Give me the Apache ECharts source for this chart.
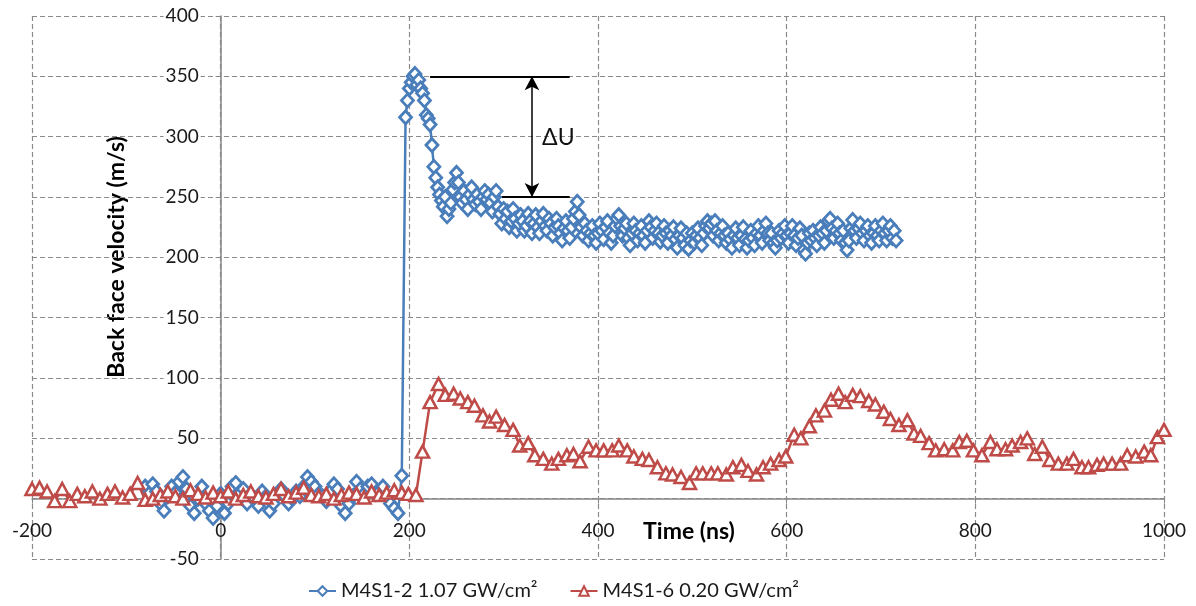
<!DOCTYPE html>
<html>
<head>
<meta charset="utf-8">
<script src="https://cdn.jsdelivr.net/npm/echarts@6/dist/echarts.min.js"></script>
<style>html,body{margin:0;padding:0;background:#fff;}#c{width:1196px;height:606px;}</style>
</head>
<body>
<div id="c"></div>
<script>
// ---- data ----
const xTicks = { min: -200, max: 1000, interval: 200 };
const yTicks = { min: -50, max: 400, interval: 50 };
const seriesNames = ['M4S1-2 1.07 GW/cm²', 'M4S1-6 0.20 GW/cm²'];
const xTitle = 'Time (ns)';
const yTitle = 'Back face velocity (m/s)';
const deltaLabel = 'ΔU';

// M4S1-2 before the shock: [time ns, velocity m/s]
const bluePre = [
[-80,10],[-76,4],[-72,12],[-68,6],[-64,-4],[-60,-10],[-56,2],[-52,10],[-48,5],[-44,14],
[-40,18],[-36,8],[-32,-6],[-28,-12],[-24,0],[-20,10],[-16,-4],[-12,-10],[-8,-16],[-4,-6],
[0,4],[4,-12],[8,-4],[12,10],[16,13],[20,4],[24,8],[28,-4],[32,2],[36,0],
[40,-6],[44,6],[48,2],[52,-10],[56,-4],[60,4],[64,8],[68,2],[72,-4],[76,0],
[80,6],[84,2],[88,10],[92,18],[96,14],[100,10],[104,4],[108,2],[112,-2],[116,6],
[120,12],[124,8],[128,-6],[132,-12],[136,-4],[140,2],[144,14],[148,8],[152,4],[156,10],
[160,12],[164,4],[168,6],[172,10],[176,2],[180,-4],[184,-8],[188,-12],[192,19]
];
// M4S1-2 after the shock, sampled every 2 ns from 196 ns (m/s)
const bluePostStart = 196, bluePostStep = 2;
const bluePost = [
316,330,340,345,350,352,343,347,340,336,
330,318,315,310,293,275,266,258,252,247,
242,250,234,240,245,256,262,270,262,250,
245,255,248,240,252,258,248,244,252,246,
240,250,255,248,252,245,238,250,255,242,
236,228,240,232,238,225,230,240,232,222,
228,235,230,222,226,236,230,220,228,235,
225,220,230,236,226,222,232,228,218,225,
232,226,220,214,224,230,222,216,225,232,
238,246,235,225,218,228,222,214,220,226,
218,212,220,228,222,215,225,230,220,212,
218,226,232,235,226,218,224,228,216,210,
220,228,222,214,220,226,218,212,222,230,
225,216,222,228,220,213,218,226,220,212,
222,218,225,215,208,218,224,216,210,220,
207,214,220,212,218,224,216,210,220,226,
230,224,228,218,230,222,214,220,226,218,
212,220,215,208,218,224,216,210,218,225,
215,208,214,222,216,210,220,226,218,212,
222,228,220,214,220,212,208,214,222,216,
220,226,218,212,220,226,218,210,216,224,
218,206,203,212,220,214,222,216,210,218,
225,220,212,222,230,232,224,216,222,228,
220,214,222,212,206,214,224,231,222,216,
224,228,220,214,222,226,218,212,220,226,
218,214,222,228,220,214,222,226,216,222,
214
];

// M4S1-6: [time ns, velocity m/s]
const redData = [
[-200,8],[-192,9],[-184,6],[-176,-2],[-168,8],[-160,-2],[-152,4],[-144,2],[-136,6],[-128,0],
[-120,4],[-112,6],[-104,1],[-96,4],[-88,13],[-80,-1],[-72,0],[-64,3],[-56,6],[-48,2],
[-40,0],[-32,7],[-24,4],[-16,1],[-8,5],[0,2],[8,6],[16,0],[24,3],[32,6],
[40,2],[48,1],[56,4],[64,8],[72,2],[80,5],[88,9],[96,3],[104,2],[112,4],
[120,0],[128,3],[136,5],[144,4],[152,1],[160,6],[168,3],[176,5],[184,7],[192,5],
[199,4],[207,3],[214,39],[222,80],[231,95],[238,86],[247,87],[254,83],[262,80],[269,77],
[278,69],[285,64],[292,68],[301,61],[310,57],[317,44],[326,46],[333,36],[342,33],[351,29],
[358,33],[367,36],[374,37],[381,31],[390,43],[398,40],[406,40],[415,40],[422,44],[431,40],
[438,35],[447,33],[454,32],[463,26],[472,21],[479,20],[488,18],[497,13],[504,21],[511,21],
[520,21],[527,21],[536,20],[543,26],[552,28],[559,23],[568,20],[575,26],[583,29],[592,32],
[599,35],[608,53],[615,50],[624,60],[631,69],[640,73],[647,82],[655,87],[662,80],[670,86],
[678,85],[687,81],[694,78],[703,72],[710,66],[719,61],[728,65],[735,54],[742,52],[751,46],
[758,40],[767,41],[776,40],[783,47],[791,48],[798,40],[807,36],[816,47],[823,41],[832,41],
[839,44],[848,47],[855,50],[863,37],[871,43],[879,32],[888,29],[897,29],[904,33],[913,26],
[920,26],[929,28],[936,29],[945,29],[954,29],[961,36],[970,35],[979,39],[986,36],[993,51],[1000,57]
];

// ΔU annotation (data coordinates)
const duTop = 350, duBottom = 250;
const duTopX = [222, 370];
const duBottomX = [298, 370];
const duArrowX = 330;
const duLabelPos = [358, 299];

// ---- chart ----
const blueData = bluePre.concat(bluePost.map((v, i) => [bluePostStart + i * bluePostStep, v]));

const W = 1196, H = 606;
const G = { left: 32, right: 32, top: 16, bottom: 47 };
const gw = W - G.left - G.right, gh = H - G.top - G.bottom;
// axes cross at zero: shift each axis (line + labels) to the other axis's zero
const yAxisOffset = -((0 - xTicks.min) / (xTicks.max - xTicks.min)) * gw;
const xAxisOffset = -((0 - yTicks.min) / (yTicks.max - yTicks.min)) * gh;

const BLUE = '#4A7EBB', RED = '#BE4B48', GRID = '#8a8a8a', AXIS = '#868686';
const FONT = 'Lato';
const chart = echarts.init(document.getElementById('c'), null, { renderer: 'canvas' });

const option = {
  animation: false,
  backgroundColor: '#fff',
  grid: { left: G.left, right: G.right, top: G.top, bottom: G.bottom, containLabel: false },
  xAxis: {
    type: 'value', min: xTicks.min, max: xTicks.max, interval: xTicks.interval,
    position: 'bottom', offset: xAxisOffset,
    axisLine: { show: true, onZero: false, lineStyle: { color: AXIS, width: 1.5 } },
    axisTick: { show: true, length: 5, lineStyle: { color: AXIS } },
    axisLabel: { fontFamily: FONT, fontSize: 19, color: '#1a1a1a', margin: 23, formatter: v => String(v) },
    splitLine: { show: true, lineStyle: { color: GRID, type: [5, 3], width: 1.2 } }
  },
  yAxis: {
    type: 'value', min: yTicks.min, max: yTicks.max, interval: yTicks.interval,
    position: 'left', offset: yAxisOffset,
    axisLine: { show: true, onZero: false, lineStyle: { color: AXIS, width: 1.5 } },
    axisTick: { show: true, length: 5, lineStyle: { color: AXIS } },
    axisLabel: { fontFamily: FONT, fontSize: 19, color: '#1a1a1a', margin: 20,
      backgroundColor: '#fff', padding: [0, 2, 0, 2], formatter: v => String(v) },
    splitLine: { show: true, lineStyle: { color: GRID, type: [5, 3], width: 1.2 } }
  },
  legend: {
    left: 303, top: 576, itemWidth: 27, itemHeight: 12, itemGap: 32,
    textStyle: { fontFamily: FONT, fontSize: 20, color: '#1a1a1a' },
    data: seriesNames
  },
  graphic: [
    { type: 'text', x: 117, y: 257, rotation: Math.PI / 2,
      style: { text: yTitle, fontFamily: FONT, fontSize: 23, fontWeight: 'bold', fill: '#000', align: 'center', verticalAlign: 'middle' } },
    { type: 'text', x: 689, y: 532,
      style: { text: xTitle, fontFamily: FONT, fontSize: 23, fontWeight: 'bold', fill: '#000', align: 'center', verticalAlign: 'middle' } }
  ],
  series: [
    {
      name: seriesNames[0], type: 'line', data: blueData,
      symbol: 'diamond', symbolSize: [12, 13], showAllSymbol: true, sampling: null,
      lineStyle: { color: BLUE, width: 2.5 },
      itemStyle: { color: '#fff', borderColor: BLUE, borderWidth: 2.8 },
      z: 2,
      markLine: {
        silent: true, animation: false,
        lineStyle: { color: '#000', width: 2, type: 'solid' },
        label: { show: false },
        symbolSize: [11, 14],
        data: [
          [{ coord: [duTopX[0], duTop], symbol: 'none' }, { coord: [duTopX[1], duTop], symbol: 'none' }],
          [{ coord: [duBottomX[0], duBottom], symbol: 'none' }, { coord: [duBottomX[1], duBottom], symbol: 'none' }],
          [{ coord: [duArrowX, duTop], symbol: 'arrow', lineStyle: { width: 1.5 } }, { coord: [duArrowX, duBottom], symbol: 'arrow' }]
        ]
      },
      markPoint: {
        silent: true, animation: false, symbol: 'circle', symbolSize: 0,
        label: { show: true, position: 'inside', formatter: deltaLabel, fontFamily: FONT, fontSize: 23, color: '#111' },
        data: [{ coord: duLabelPos }]
      }
    },
    {
      name: seriesNames[1], type: 'line', data: redData,
      symbol: 'triangle', symbolSize: [13, 12], showAllSymbol: true, sampling: null,
      lineStyle: { color: RED, width: 2.5 },
      itemStyle: { color: '#fff', borderColor: RED, borderWidth: 2.5 },
      z: 3
    }
  ]
};
chart.setOption(option);
</script>
</body>
</html>
